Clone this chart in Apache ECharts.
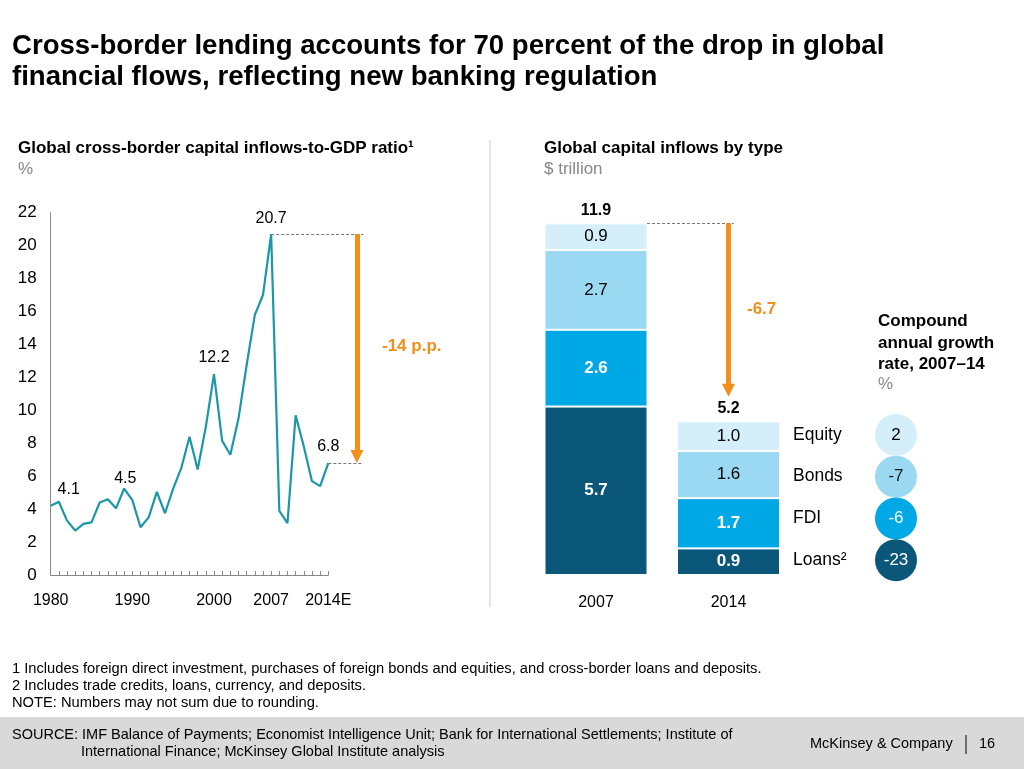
<!DOCTYPE html>
<html><head><meta charset="utf-8">
<script src="https://cdn.jsdelivr.net/npm/echarts@6/dist/echarts.min.js"></script>
<style>html,body{margin:0;padding:0;background:#fff}#c{width:1024px;height:769px}</style>
</head><body><div id="c"></div>
<script>
// ---------- DATA ----------
const years = [1980,1981,1982,1983,1984,1985,1986,1987,1988,1989,1990,1991,1992,1993,1994,1995,1996,1997,1998,1999,2000,2001,2002,2003,2004,2005,2006,2007,2008,2009,2010,2011,2012,2013,2014];
const ratio = [4.2,4.45,3.3,2.7,3.1,3.2,4.4,4.6,4.05,5.25,4.55,2.9,3.5,5.05,3.75,5.25,6.5,8.4,6.4,9.0,12.2,8.15,7.3,9.5,12.75,15.8,17.0,20.7,3.9,3.15,9.7,7.8,5.7,5.4,6.8];
const xLabelYears = [1980,1990,2000,2007,2014];
const xLabelText = ['1980','1990','2000','2007','2014E'];
const annoYears = [1980,1990,2000,2007,2014];
const annoText = ['4.1','4.5','12.2','20.7','6.8'];
const peakYear = 2007, peakValue = 20.7, endYear = 2014, endValue = 6.8;
const dropText = '-14 p.p.';

const barCats = ['2007','2014'];
const loans = [5.7,0.9];
const fdi = [2.6,1.7];
const bonds = [2.7,1.6];
const equity = [0.9,1.0];
const totals = [11.9,5.2];
const barDropText = '-6.7';

const typeNames = ['Equity','Bonds','FDI','Loans\u00B2'];
const cagr = [2,-7,-6,-23];

// ---------- STYLE ----------
const FONT = 'Liberation Sans, Arial, Helvetica, sans-serif';
const ORANGE = '#F39019';
const TEAL = '#1a98a6';
const C_LOANS = '#0b5779', C_FDI = '#00a8e6', C_BONDS = '#9bd8f2', C_EQ = '#d4effa';
const circleColors = [C_EQ, C_BONDS, C_FDI, C_LOANS];
const circleText = ['#000','#1a1a1a','#fff','#fff'];
const annoOffsets = {1980:[18,0], 1990:[-7,-5]};

const chart = echarts.init(document.getElementById('c'), null, {renderer:'canvas'});

const lineData = years.map((y,i) => {
  const item = {value:[y, ratio[i]]};
  const k = annoYears.indexOf(y);
  if (k >= 0) {
    item.label = {show:true, position:'top', distance:8, formatter: annoText[k],
      offset: annoOffsets[y] || [0,0], color:'#000', fontSize:16, fontFamily:FONT};
  }
  return item;
});

const pxPerUnitLine = 362.3/22;
const pxPerUnitBar = 354.6/12;

function barSeries(name, data, color, labelColor, bold) {
  return {type:'bar', name, data, stack:'s', xAxisIndex:1, yAxisIndex:1, barWidth:103,
    itemStyle:{color, borderColor:'#fff', borderWidth:1},
    label:{show:true, position:'inside', color:labelColor, fontSize:17, fontWeight: bold?'bold':'normal', fontFamily:FONT,
      formatter: p => p.value.toFixed(1)},
    silent:true};
}

const option = {
  animation:false,
  grid:[
    {left:50.7, top:212.7, width:277.6, height:362.3},
    {left:529.75, top:220.4, width:265, height:354.6},
    {left:876, top:414, width:40, height:167}
  ],
  xAxis:[
    {gridIndex:0, type:'value', min:1980, max:2014, interval:1,
      axisLine:{show:true, lineStyle:{color:'#888', width:1}},
      axisTick:{show:true, inside:true, length:4, lineStyle:{color:'#888'}},
      splitLine:{show:false},
      axisLabel:{margin:18, color:'#000', fontSize:16, fontFamily:FONT, showMinLabel:true, showMaxLabel:true,
        formatter: v => { const k = xLabelYears.indexOf(v); return k>=0 ? xLabelText[k] : ''; }}},
    {gridIndex:1, type:'category', data:barCats,
      axisLine:{show:false}, axisTick:{show:false},
      axisLabel:{margin:20, color:'#000', fontSize:16, fontFamily:FONT}},
    {gridIndex:1, type:'value', min:0, max:2, show:false},
    {gridIndex:2, type:'value', min:0, max:2, show:false}
  ],
  yAxis:[
    {gridIndex:0, type:'value', min:0, max:22, interval:2,
      axisLine:{show:true, lineStyle:{color:'#888', width:1}}, axisTick:{show:false}, splitLine:{show:false},
      axisLabel:{margin:14, color:'#000', fontSize:17, fontFamily:FONT}},
    {gridIndex:1, type:'value', min:0, max:12, show:false},
    {gridIndex:2, type:'category', data:typeNames, inverse:true,
      axisLine:{show:false}, axisTick:{show:false},
      axisLabel:{align:'left', margin:83, color:'#000', fontSize:17.5, fontFamily:FONT}}
  ],
  series:[
    {type:'line', xAxisIndex:0, yAxisIndex:0, data:lineData, symbol:'circle', symbolSize:0, showSymbol:true, showAllSymbol:true,
      itemStyle:{color:TEAL, opacity:1},
      lineStyle:{color:TEAL, width:2.2}, silent:true},
    {type:'lines', coordinateSystem:'cartesian2d', xAxisIndex:0, yAxisIndex:0, clip:false, silent:true,
      symbol:'none', lineStyle:{color:'#777', width:1, type:[3,2], opacity:1, curveness:0},
      data:[{coords:[[peakYear,peakValue],[2018.3,peakValue]]},{coords:[[endYear,endValue],[2018.3,endValue]]}]},
    {type:'lines', coordinateSystem:'cartesian2d', xAxisIndex:0, yAxisIndex:0, clip:false, silent:true,
      symbol:['none','triangle'], symbolSize:[14,13],
      lineStyle:{color:ORANGE, width:5, opacity:1, curveness:0},
      data:[{coords:[[2017.5,peakValue],[2017.5,endValue + 6.5/pxPerUnitLine]]}]},
    barSeries('Loans', loans, C_LOANS, '#fff', true),
    barSeries('FDI', fdi, C_FDI, '#fff', true),
    barSeries('Bonds', bonds, C_BONDS, '#000', false),
    barSeries('Equity', equity, C_EQ, '#000', false),
    {type:'scatter', xAxisIndex:1, yAxisIndex:1, data:totals, symbolSize:0, silent:true,
      itemStyle:{opacity:1},
      label:{show:true, position:'top', distance:5, color:'#000', fontSize:16, fontWeight:'bold', fontFamily:FONT,
        formatter: p => p.value.toFixed(1)}},
    {type:'lines', coordinateSystem:'cartesian2d', xAxisIndex:2, yAxisIndex:1, clip:false, silent:true,
      symbol:'none', lineStyle:{color:'#777', width:1, type:[3,2], opacity:1, curveness:0},
      data:[{coords:[[0.885,totals[0]],[1.54,totals[0]]]}]},
    {type:'lines', coordinateSystem:'cartesian2d', xAxisIndex:2, yAxisIndex:1, clip:false, silent:true,
      symbol:['none','triangle'], symbolSize:[14,13],
      lineStyle:{color:ORANGE, width:5, opacity:1, curveness:0},
      data:[{coords:[[1.5,totals[0]],[1.5,totals[1] + 0.83 + 6.5/pxPerUnitBar]]}]},
    {type:'scatter', xAxisIndex:3, yAxisIndex:2, symbolSize:42, silent:true,
      data: cagr.map((v,i)=>({value:[1,i], itemStyle:{color:circleColors[i], opacity:1},
        label:{show:true, position:'inside', formatter:String(v), color:circleText[i], fontSize:17, fontFamily:FONT}}))}
  ],
  graphic:[
    {type:'text', left:12, top:31, style:{text:'Cross-border lending accounts for 70 percent of the drop in global\nfinancial flows, reflecting new banking regulation',
      font:'bold 27.6px '+FONT, fill:'#000', lineHeight:31}},
    {type:'text', left:18, top:140, style:{text:'Global cross-border capital inflows-to-GDP ratio\u00B9', font:'bold 17px '+FONT, fill:'#000'}},
    {type:'text', left:18, top:161, style:{text:'%', font:'17px '+FONT, fill:'#888'}},
    {type:'text', left:544, top:140, style:{text:'Global capital inflows by type', font:'bold 17px '+FONT, fill:'#000'}},
    {type:'text', left:544, top:161, style:{text:'$ trillion', font:'17px '+FONT, fill:'#888'}},
    {type:'line', shape:{x1:490, y1:140, x2:490, y2:607}, style:{stroke:'#ccc', lineWidth:1}},
    {type:'text', left:382, top:338, style:{text:dropText, font:'bold 17px '+FONT, fill:ORANGE}},
    {type:'text', left:747, top:301, style:{text:barDropText, font:'bold 17px '+FONT, fill:ORANGE}},
    {type:'text', left:878, top:311, style:{text:'Compound\nannual growth\nrate, 2007\u201314', font:'bold 17px '+FONT, fill:'#000', lineHeight:21.5}},
    {type:'text', left:878, top:376, style:{text:'%', font:'17px '+FONT, fill:'#888'}},
    {type:'text', left:12, top:660, style:{text:'1 Includes foreign direct investment, purchases of foreign bonds and equities, and cross-border loans and deposits.\n2 Includes trade credits, loans, currency, and deposits.\nNOTE: Numbers may not sum due to rounding.',
      font:'14.7px '+FONT, fill:'#000', lineHeight:17}},
    {type:'rect', shape:{x:0, y:717, width:1024, height:52}, style:{fill:'#d9d9d9'}, z:-1},
    {type:'text', left:12, top:727, style:{text:'SOURCE: IMF Balance of Payments; Economist Intelligence Unit; Bank for International Settlements; Institute of',
      font:'14.5px '+FONT, fill:'#000'}},
    {type:'text', left:81, top:744, style:{text:'International Finance; McKinsey Global Institute analysis', font:'14.5px '+FONT, fill:'#000'}},
    {type:'text', left:810, top:736, style:{text:'McKinsey & Company', font:'14.5px '+FONT, fill:'#000'}},
    {type:'line', shape:{x1:966, y1:735, x2:966, y2:754}, style:{stroke:'#000', lineWidth:1}},
    {type:'text', left:979, top:736, style:{text:'16', font:'14.5px '+FONT, fill:'#000'}}
  ]
};
chart.setOption(option);
</script>
</body></html>
